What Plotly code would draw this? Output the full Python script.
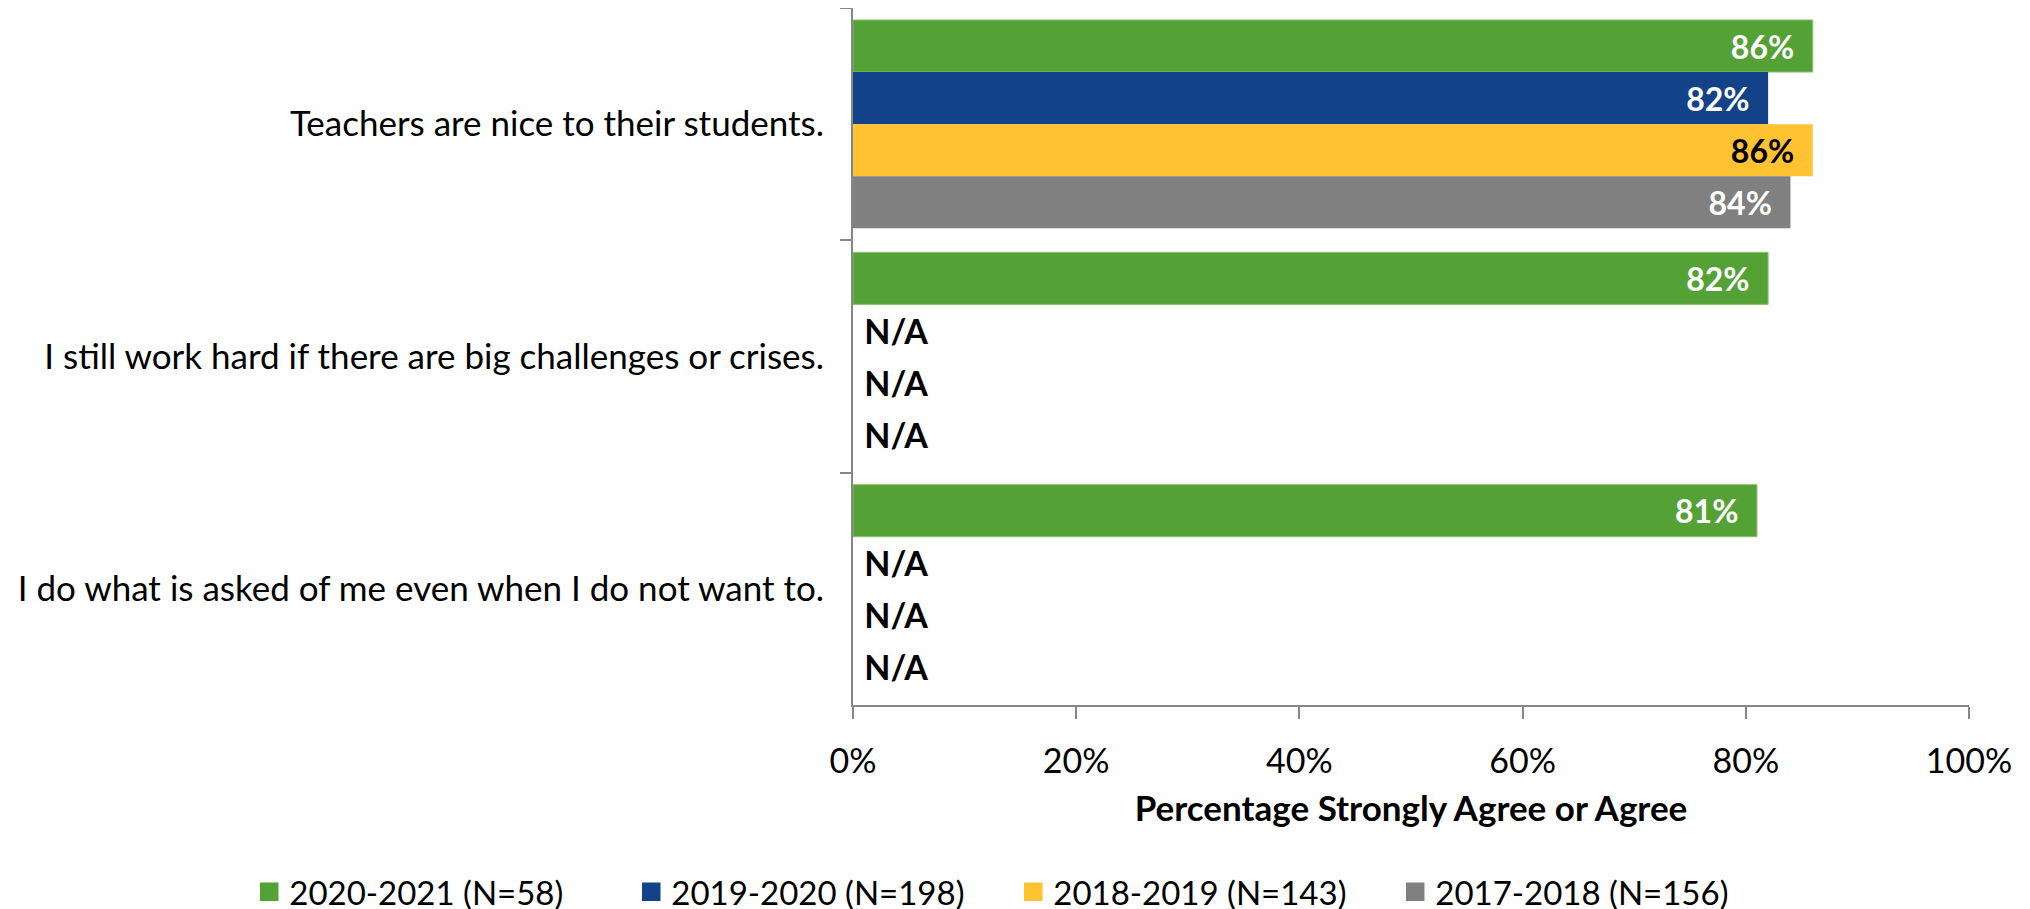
import plotly.graph_objects as go

categories = [
    "Teachers are nice to their students.",
    "I still work hard if there are big challenges or crises.",
    "I do what is asked of me even when I do not want to.",
]
series_names = ["2020-2021 (N=58)", "2019-2020 (N=198)", "2018-2019 (N=143)", "2017-2018 (N=156)"]
values_2020_2021 = [86, 82, 81]
values_2019_2020 = [82, None, None]
values_2018_2019 = [86, None, None]
values_2017_2018 = [84, None, None]
x_ticks = [0, 20, 40, 60, 80, 100]

colors = ["#54A136", "#134288", "#FFC230", "#808080"]
label_colors = ["white", "white", "black", "white"]
FONT = "Lato, Carlito, Calibri, sans-serif"

fig = go.Figure()
all_values = [values_2020_2021, values_2019_2020, values_2018_2019, values_2017_2018]
for name, vals, col, lc in zip(series_names, all_values, colors, label_colors):
    xs = [v if v is not None else 0 for v in vals]
    texts = [f"{v}%\u00a0\u00a0" if v is not None else "\u00a0N/A" for v in vals]
    positions = ["inside" if v is not None else "outside" for v in vals]
    tcolors = [lc if v is not None else "black" for v in vals]
    tsizes = [32 if v is not None else 34 for v in vals]
    fig.add_trace(go.Bar(
        y=categories, x=xs, name=name, orientation="h", showlegend=False,
        legendgroup=name,
        marker=dict(color=col, line=dict(width=1 if col == "#54A136" else 0, color="#8CC46E")),
        text=texts, textposition=positions, insidetextanchor="end",
        textangle=0, constraintext="none", cliponaxis=False,
        textfont=dict(family=FONT, size=tsizes, color=tcolors, weight="bold"),
        hoverinfo="skip",
    ))

# legend entries with larger square swatches
for name, col in zip(series_names, colors):
    fig.add_trace(go.Scatter(
        x=[None], y=[None], mode="markers", name=name, legendgroup=name,
        marker=dict(symbol="square", size=16, color=col, line=dict(width=2.5, color=col)),
        showlegend=True, hoverinfo="skip",
    ))

# page body has an 8px margin, so the figure is offset/sized to compensate
fig.update_layout(
    width=2022, height=930,
    barmode="group", bargap=0.103, bargroupgap=0,
    plot_bgcolor="white", paper_bgcolor="white",
    margin=dict(l=845, r=61, t=0, b=233),
    font=dict(family=FONT, size=35, color="black"),
    showlegend=True,
    legend=dict(orientation="h", x=-0.541, xanchor="left", y=-0.268, yanchor="middle",
                font=dict(family=FONT, size=33, color="black"), entrywidth=337,
                traceorder="normal", itemsizing="trace"),
)
fig.update_xaxes(
    range=[0, 100], tickvals=x_ticks, ticktext=[f"{t}%" for t in x_ticks],
    tickfont=dict(family=FONT, size=34, color="black"),
    showgrid=False, zeroline=False, showline=True, linecolor="#868686", linewidth=2,
    ticks="outside", ticklen=12, tickcolor="#868686", tickwidth=2,
    ticklabelstandoff=13,
    title=dict(text="<b>Percentage Strongly Agree or Agree</b>", standoff=18,
               font=dict(family=FONT, size=35, color="black")),
)
fig.update_yaxes(
    autorange="reversed", showgrid=False, zeroline=False, showline=True,
    linecolor="#868686", linewidth=2, ticks="outside", ticklen=11,
    tickfont=dict(family=FONT, size=35, color="black"),
    tickcolor="#868686", tickwidth=2, tickson="boundaries", ticklabelstandoff=20,
)

fig.write_html("out.html")
